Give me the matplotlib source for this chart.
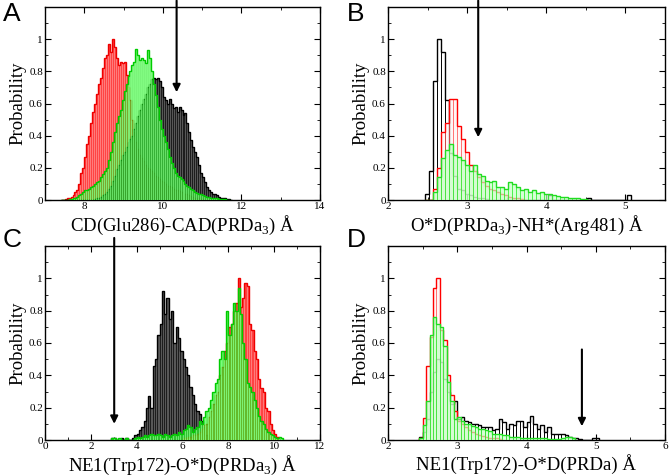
import numpy as np
import matplotlib
matplotlib.use('Agg')
import matplotlib.pyplot as plt

plt.rcParams['font.family'] = ['Liberation Serif', 'DejaVu Serif']
plt.rcParams['mathtext.fontset'] = 'custom'
plt.rcParams['mathtext.rm'] = 'Liberation Serif'

# ---- panel A : CD(Glu286)-CAD(PRDa3), bins of 0.05 from 7.4
a_start = 7.4
a_bw = 0.05
a_red = [0, 0, 0.005, 0.01, 0.01, 0.02, 0.03, 0.05, 0.06, 0.1, 0.17, 0.2, 0.27, 0.35, 0.4, 0.48,
         0.55, 0.6, 0.66, 0.72, 0.76, 0.82, 0.88, 0.9, 0.97, 0.92, 1.0, 0.95, 0.88, 0.84, 0.86, 0.85,
         0.86, 0.78, 0.7, 0.62, 0.5, 0.42, 0.36, 0.32, 0.28, 0.26, 0.24, 0.22, 0.2, 0.19, 0.18, 0.17,
         0.15, 0.14, 0.13, 0.12, 0.11, 0.1, 0.09, 0.085, 0.08, 0.07, 0.065, 0.06, 0.055, 0.05, 0.045,
         0.04, 0.035, 0.03, 0.025, 0.02, 0.015, 0.01, 0.01, 0.005, 0.005]
a_green = [0, 0, 0, 0, 0.005, 0.005, 0.01, 0.015, 0.02, 0.03, 0.04, 0.05, 0.06, 0.06, 0.07, 0.08,
           0.09, 0.1, 0.11, 0.12, 0.14, 0.16, 0.18, 0.2, 0.25, 0.3, 0.36, 0.42, 0.48, 0.52, 0.56, 0.62,
           0.68, 0.72, 0.77, 0.8, 0.84, 0.86, 0.94, 0.9, 0.87, 0.88, 0.87, 0.85, 0.93, 0.88, 0.8, 0.72,
           0.65, 0.58, 0.5, 0.44, 0.4, 0.36, 0.32, 0.27, 0.23, 0.2, 0.17, 0.15, 0.14, 0.13, 0.12, 0.1,
           0.09, 0.08, 0.07, 0.06, 0.05, 0.045, 0.04, 0.035, 0.03, 0.025, 0.02, 0.02, 0.015, 0.01,
           0.01, 0.01, 0.005, 0.005, 0.005, 0.005, 0.003, 0.003]
a_black = [0, 0, 0, 0, 0, 0, 0, 0, 0, 0, 0, 0, 0, 0, 0, 0, 0, 0.005, 0.01, 0.015, 0.02, 0.03, 0.04,
           0.05, 0.07, 0.09, 0.12, 0.15, 0.19, 0.22, 0.25, 0.28, 0.3, 0.33, 0.36, 0.38, 0.4, 0.44,
           0.48, 0.52, 0.56, 0.6, 0.63, 0.66, 0.7, 0.72, 0.75, 0.76, 0.75, 0.76, 0.74, 0.7, 0.64,
           0.62, 0.6, 0.63, 0.6, 0.57, 0.58, 0.55, 0.58, 0.56, 0.53, 0.54, 0.48, 0.42, 0.37, 0.33,
           0.3, 0.27, 0.22, 0.17, 0.14, 0.11, 0.08, 0.06, 0.05, 0.04, 0.035, 0.03, 0.02, 0.015, 0.01,
           0.01, 0.005, 0.005, 0.003]
a_arrow = (10.35, 0.67)

# ---- panel B : O*D(PRDa3)-NH*(Arg481), bins of 0.05 from 2.47
b_start = 2.47
b_bw = 0.05
b_black = [0.04, 0.18, 0.74, 1.0, 0.92, 0.62, 0.29, 0.15, 0.07, 0.06, 0.04, 0.03, 0.02, 0.01,
           0.01, 0.005, 0, 0, 0, 0, 0, 0, 0, 0, 0, 0, 0, 0, 0, 0, 0, 0.03, 0, 0, 0, 0, 0, 0, 0,
           0, 0, 0.01, 0, 0, 0, 0, 0, 0, 0, 0, 0, 0.03]
b_red = [0, 0, 0.07, 0.2, 0.42, 0.48, 0.63, 0.63, 0.46, 0.38, 0.3, 0.22, 0.18, 0.14, 0.11, 0.09,
         0.07, 0.06, 0.05, 0.04, 0.03, 0.02, 0.015, 0.01, 0.005]
b_green = [0, 0, 0.05, 0.145, 0.26, 0.31, 0.35, 0.28, 0.27, 0.25, 0.22, 0.18, 0.22, 0.16, 0.15,
           0.12, 0.11, 0.12, 0.08, 0.08, 0.07, 0.11, 0.1, 0.08, 0.06, 0.07, 0.05, 0.06, 0.045, 0.05,
           0.04, 0.035, 0.03, 0.025, 0.02, 0.02, 0.015, 0.012, 0.01, 0.008, 0.005, 0.003]
b_arrow = (3.14, 0.39)

# ---- panel C : NE1(Trp172)-O*D(PRDa3), bins of 0.1
c_bw = 0.1
c_black_start = 2.9
c_black = [0.01, 0.01, 0, 0, 0.01, 0, 0.01, 0, 0, 0.01, 0.03, 0.04, 0.06, 0.08, 0.12, 0.2, 0.27,
           0.2, 0.46, 0.5, 0.65, 0.72, 0.92, 0.78, 0.88, 0.75, 0.8, 0.6, 0.7, 0.63, 0.55, 0.5,
           0.45, 0.4, 0.33, 0.28, 0.22, 0.18, 0.16, 0.12, 0.08, 0.03]
c_red_start = 6.0
c_red = [0.01, 0.01, 0.02, 0.02, 0.03, 0.03, 0.04, 0.05, 0.07, 0.09, 0.1, 0.14, 0.18, 0.22, 0.28,
         0.3, 0.4, 0.45, 0.55, 0.6, 0.7, 0.72, 0.8, 0.85, 1.0, 0.82, 0.88, 0.97, 0.95, 0.72, 0.68,
         0.55, 0.5, 0.38, 0.32, 0.3, 0.2, 0.18, 0.1, 0.06, 0.04, 0.02]
c_green_start = 2.9
c_green = [0.01, 0.01, 0, 0.01, 0, 0, 0.01, 0, 0, 0, 0.01, 0.02, 0.01, 0.02, 0.03, 0.02, 0.03,
           0.04, 0.03, 0.03, 0.04, 0.03, 0.02, 0.04, 0.03, 0.02, 0.03, 0.04, 0.03, 0.05, 0.04,
           0.06, 0.07, 0.09, 0.08, 0.05, 0.07, 0.08, 0.12, 0.1, 0.14, 0.18, 0.2, 0.25, 0.3, 0.35,
           0.38, 0.5, 0.55, 0.5, 0.8, 0.65, 0.72, 0.85, 0.8, 0.94, 0.78, 0.6, 0.5, 0.35, 0.33, 0.3,
           0.25, 0.2, 0.15, 0.12, 0.1, 0.07, 0.05, 0.04, 0.03, 0.02, 0.01, 0.02, 0.01]
c_arrow = (3.02, 0.10)

# ---- panel D : NE1(Trp172)-O*D(PRDa), bins of 0.05 from 2.45
d_start = 2.45
d_bw = 0.05
d_black = [0.02, 0.05, 0.13, 0.3, 0.42, 0.5, 0.48, 0.38, 0.3, 0.22, 0.24, 0.13, 0.14, 0.12, 0.11,
           0.1, 0.1, 0.09, 0.08, 0.08, 0.08, 0.06, 0.07, 0.13, 0.11, 0.07, 0.1, 0.09, 0.12, 0.115,
           0.08, 0.11, 0.15, 0.1, 0.07, 0.09, 0.05, 0.08, 0.04, 0.035, 0.035, 0.035, 0.03, 0.02,
           0.015, 0.01, 0.005, 0, 0, 0, 0.01, 0.01]
d_red = [0.01, 0.135, 0.46, 0.64, 0.94, 1.0, 0.68, 0.62, 0.4, 0.28, 0.18, 0.12, 0.1, 0.08, 0.06,
         0.05, 0.04, 0.03, 0.025, 0.02, 0.015, 0.01, 0.01, 0.005]
d_green = [0.01, 0.09, 0.24, 0.65, 0.76, 0.72, 0.7, 0.58, 0.36, 0.24, 0.13, 0.14, 0.12, 0.1, 0.1,
           0.085, 0.08, 0.07, 0.065, 0.06, 0.055, 0.04, 0.04, 0.035, 0.03, 0.03, 0.02, 0.02, 0.02,
           0.015, 0.015, 0.01, 0.01, 0.01, 0.01, 0.01, 0.01, 0.005, 0.005, 0.005, 0.005, 0.01,
           0.02, 0.02, 0.01]
d_arrow = (4.8, 0.56, 0.085)


def hist(ax, start, bw, vals, fill, stripe, outline, alpha, z):
    vals = np.asarray(vals, dtype=float)
    edges = start + bw * np.arange(len(vals) + 1)
    ax.bar(edges[:-1], vals, width=bw, align='edge', color=fill, alpha=alpha,
           edgecolor=stripe, linewidth=0.6, zorder=z)
    ax.stairs(vals, edges, color=outline, linewidth=1.0, zorder=z + 0.1)


def style(ax, xlim, major_ticks, minor, xlabel):
    ax.set_xlim(*xlim)
    ax.set_ylim(0, 1.2)
    ax.set_xticks(major_ticks)
    ax.set_xticklabels(['%g' % t for t in major_ticks])
    ax.set_xticks(np.arange(xlim[0], xlim[1] + 1e-9, minor), minor=True)
    ax.set_yticks([0, 0.2, 0.4, 0.6, 0.8, 1.0])
    ax.set_yticklabels(['0', '0.2', '0.4', '0.6', '0.8', '1'])
    ax.set_yticks(np.arange(0, 1.21, 0.1), minor=True)
    ax.tick_params(which='both', direction='in', top=True, right=True, labelsize=8, pad=1.5)
    ax.tick_params(which='major', length=4)
    ax.tick_params(which='minor', length=2)
    ax.set_ylabel('Probability', fontsize=13.5, labelpad=2)
    ax.set_xlabel(xlabel, fontsize=13.5)
    ax.xaxis.set_label_coords(0.5, -0.07)
    for s in ax.spines.values():
        s.set_linewidth(1.0)


def arrow(ax, x, y0, y1):
    ax.annotate('', xy=(x, y1), xytext=(x, y0), annotation_clip=False,
                arrowprops=dict(arrowstyle='-|>', color='black', lw=1.5,
                                mutation_scale=11, shrinkA=0, shrinkB=0))


fig = plt.figure(figsize=(6.7, 4.76), dpi=100)
axA = fig.add_axes([45 / 670, 1 - 200 / 476, 275 / 670, 193 / 476])
axB = fig.add_axes([388 / 670, 1 - 200 / 476, 277 / 670, 193 / 476])
axC = fig.add_axes([45 / 670, 1 - 440 / 476, 275 / 670, 194 / 476])
axD = fig.add_axes([388 / 670, 1 - 440 / 476, 277 / 670, 194 / 476])

# A (filled)
hist(axA, a_start, a_bw, a_red, '#ff2222', '#ff8888', '#ee0000', 0.85, 2)
hist(axA, a_start, a_bw, a_black, '#3a3a3a', '#111111', '#000000', 0.85, 3)
hist(axA, a_start, a_bw, a_green, '#22ee22', '#88ff88', '#00cc00', 0.6, 4)
style(axA, (7, 14), [8, 10, 12, 14], 1, r'CD(Glu286)-CAD(PRDa$_3$) Å')
arrow(axA, a_arrow[0], 1.24, a_arrow[1])

# B (outlined)
hist(axB, b_start, b_bw, b_black, 'none', '#000000', '#000000', 1.0, 2)
hist(axB, b_start, b_bw, b_red, '#ffeeee', '#ff2222', '#ff0000', 0.5, 3)
hist(axB, b_start, b_bw, b_green, '#c4ffc4', '#22ee22', '#22dd22', 0.7, 4)
style(axB, (2, 5.5), [2, 3, 4, 5], 0.5, r'O*D(PRDa$_3$)-NH*(Arg481) Å')
arrow(axB, b_arrow[0], 1.24, b_arrow[1])

# C (filled)
hist(axC, c_black_start, c_bw, c_black, '#3a3a3a', '#111111', '#000000', 0.85, 2)
hist(axC, c_red_start, c_bw, c_red, '#ff2222', '#ff8888', '#ee0000', 0.85, 3)
hist(axC, c_green_start, c_bw, c_green, '#22ee22', '#88ff88', '#00cc00', 0.7, 4)
style(axC, (0, 12), [0, 2, 4, 6, 8, 10, 12], 1, r'NE1(Trp172)-O*D(PRDa$_3$) Å')
arrow(axC, c_arrow[0], 1.25, c_arrow[1])

# D (outlined)
hist(axD, d_start, d_bw, d_black, 'none', '#000000', '#000000', 1.0, 2)
hist(axD, d_start, d_bw, d_red, '#ffeeee', '#ff2222', '#ff0000', 0.5, 3)
hist(axD, d_start, d_bw, d_green, '#c4ffc4', '#22ee22', '#22dd22', 0.7, 4)
style(axD, (2, 6), [2, 3, 4, 5, 6], 0.5, 'NE1(Trp172)-O*D(PRDa) Å')
arrow(axD, d_arrow[0], d_arrow[1], d_arrow[2])

for lab, x, y in [('A', 3, 2), ('B', 347, 2), ('C', 3, 228), ('D', 347, 228)]:
    fig.text(x / 670, 1 - y / 476, lab, fontsize=19, family='Liberation Sans', va='top', ha='left')

fig.savefig('out.png', dpi=100)
